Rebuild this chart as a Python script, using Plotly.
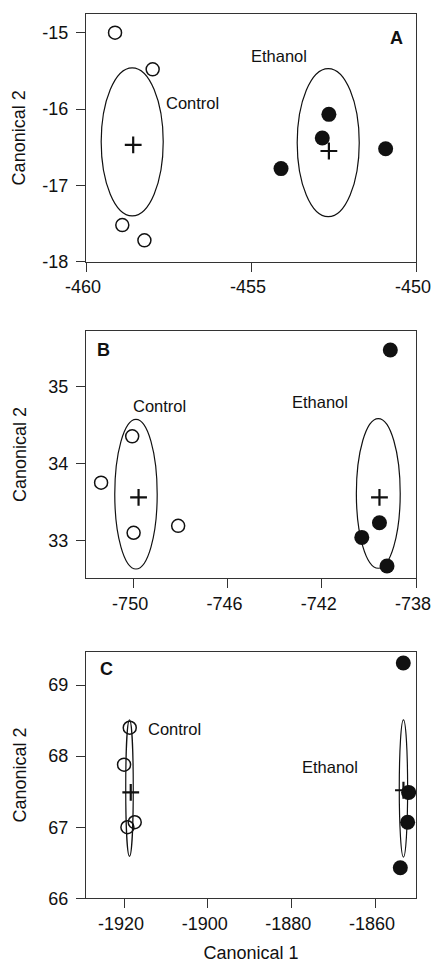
import plotly.graph_objects as go

# ---------------- data ----------------
# Panel A
a_ctrl_x = [-459.12, -457.98, -458.9, -458.23]
a_ctrl_y = [-15.0, -15.48, -17.52, -17.72]
a_eth_x = [-454.09, -452.64, -452.84, -450.92]
a_eth_y = [-16.78, -16.07, -16.38, -16.52]
a_cent_x = [-458.57, -452.64]
a_cent_y = [-16.47, -16.55]
a_ell_cx = [-458.6, -452.66]
a_ell_cy = [-16.43, -16.44]
a_ell_rx = [0.94, 0.94]
a_ell_ry = [0.97, 0.97]
a_xticks = [-460, -455, -450]
a_xticklabels = ["-460", "-455", "-450"]
a_yticks = [-18, -17, -16, -15]
a_yticklabels = ["-18", "-17", "-16", "-15"]

# Panel B
b_ctrl_x = [-751.36, -750.04, -749.98, -748.09]
b_ctrl_y = [33.75, 34.35, 33.10, 33.19]
b_eth_x = [-739.09, -739.55, -740.3, -739.23]
b_eth_y = [35.47, 33.23, 33.04, 32.67]
b_cent_x = [-749.77, -739.55]
b_cent_y = [33.56, 33.56]
b_ell_cx = [-749.88, -739.6]
b_ell_cy = [33.60, 33.61]
b_ell_rx = [0.9, 0.93]
b_ell_ry = [0.97, 0.97]
b_xticks = [-750, -746, -742, -738]
b_xticklabels = ["-750", "-746", "-742", "-738"]
b_yticks = [33, 34, 35]
b_yticklabels = ["33", "34", "35"]

# Panel C
c_ctrl_x = [-1918.64, -1920.0, -1919.2, -1917.45]
c_ctrl_y = [68.40, 67.88, 67.0, 67.07]
c_eth_x = [-1853.24, -1851.97, -1852.2, -1853.95]
c_eth_y = [69.31, 67.49, 67.07, 66.43]
c_cent_x = [-1918.4, -1853.2]
c_cent_y = [67.49, 67.52]
c_ell_cx = [-1918.7, -1853.2]
c_ell_cy = [67.55, 67.545]
c_ell_rx = [0.9, 1.0]
c_ell_ry = [0.96, 0.965]
c_xticks = [-1920, -1900, -1880, -1860]
c_xticklabels = ["-1920", "-1900", "-1880", "-1860"]
c_yticks = [66, 67, 68, 69]
c_yticklabels = ["66", "67", "68", "69"]

panels = [
    dict(letter="A", cx=a_ctrl_x, cy=a_ctrl_y, ex=a_eth_x, ey=a_eth_y,
         mx=a_cent_x, my=a_cent_y, ecx=a_ell_cx, ecy=a_ell_cy, erx=a_ell_rx, ery=a_ell_ry,
         xr=[-460, -450], yr=[-18, -14.755], xt=a_xticks, xtt=a_xticklabels,
         yt=a_yticks, ytt=a_yticklabels,
         ctrl_lab=(-456.77, -15.92), eth_lab=(-454.15, -15.31), let_pos=(-450.6, -15.07),
         dom=[0.7282, 0.9855], standoff=11),
    dict(letter="B", cx=b_ctrl_x, cy=b_ctrl_y, ex=b_eth_x, ey=b_eth_y,
         mx=b_cent_x, my=b_cent_y, ecx=b_ell_cx, ecy=b_ell_cy, erx=b_ell_rx, ery=b_ell_ry,
         xr=[-752, -738], yr=[32.51, 35.72], xt=b_xticks, xtt=b_xticklabels,
         yt=b_yticks, ytt=b_yticklabels,
         ctrl_lab=(-748.87, 34.74), eth_lab=(-742.08, 34.80), let_pos=(-751.26, 35.47),
         dom=[0.3995, 0.6566], standoff=16),
    dict(letter="C", cx=c_ctrl_x, cy=c_ctrl_y, ex=c_eth_x, ey=c_eth_y,
         mx=c_cent_x, my=c_cent_y, ecx=c_ell_cx, ecy=c_ell_cy, erx=c_ell_rx, ery=c_ell_ry,
         xr=[-1929.1, -1850.2], yr=[66, 69.47], xt=c_xticks, xtt=c_xticklabels,
         yt=c_yticks, ytt=c_yticklabels,
         ctrl_lab=(-1908.0, 68.38), eth_lab=(-1870.8, 67.85), let_pos=(-1924.3, 69.23),
         dom=[0.0672, 0.3233], standoff=16),
]

FONT = "Liberation Sans, Arial, sans-serif"
fig = go.Figure()
layout = dict(
    width=432, height=963, margin=dict(l=0, r=0, t=0, b=0),
    paper_bgcolor="white", plot_bgcolor="white", showlegend=False,
    font=dict(family=FONT, color="#111", size=17),
)
shapes = []
annotations = []

for i, p in enumerate(panels):
    n = "" if i == 0 else str(i + 1)
    xa, ya = "x" + n, "y" + n
    fig.add_trace(go.Scatter(x=p["cx"], y=p["cy"], mode="markers", xaxis=xa, yaxis=ya,
                             marker=dict(symbol="circle-open", size=13, color="#111",
                                         line=dict(width=1.5, color="#111"))))
    fig.add_trace(go.Scatter(x=p["ex"], y=p["ey"], mode="markers", xaxis=xa, yaxis=ya,
                             marker=dict(symbol="circle", size=15, color="#111")))
    fig.add_trace(go.Scatter(x=p["mx"], y=p["my"], mode="markers", xaxis=xa, yaxis=ya,
                             marker=dict(symbol="cross-thin", size=12, color="#111",
                                         line=dict(width=2.2, color="#111"))))
    for j in range(2):
        shapes.append(dict(type="circle", xref=xa, yref=ya,
                           x0=p["ecx"][j] - p["erx"][j], x1=p["ecx"][j] + p["erx"][j],
                           y0=p["ecy"][j] - p["ery"][j], y1=p["ecy"][j] + p["ery"][j],
                           line=dict(color="#111", width=1.2), layer="below"))
    annotations.append(dict(x=p["ctrl_lab"][0], y=p["ctrl_lab"][1], xref=xa, yref=ya,
                            text="Control", showarrow=False, font=dict(size=16.5)))
    annotations.append(dict(x=p["eth_lab"][0], y=p["eth_lab"][1], xref=xa, yref=ya,
                            text="Ethanol", showarrow=False, font=dict(size=16.5)))
    annotations.append(dict(x=p["let_pos"][0], y=p["let_pos"][1], xref=xa, yref=ya,
                            text="<b>" + p["letter"] + "</b>", showarrow=False, font=dict(size=18)))
    axcommon = dict(showline=True, mirror=True, linecolor="#333", linewidth=1.3,
                    ticks="outside", ticklen=9, tickcolor="#333", tickwidth=1.3,
                    showgrid=False, zeroline=False, automargin=False,
                    tickfont=dict(size=18))
    xkey = "xaxis" + n
    ykey = "yaxis" + n
    layout[xkey] = dict(axcommon, domain=[86 / 432, 416 / 432], range=p["xr"],
                        tickvals=p["xt"], ticktext=p["xtt"], anchor=ya,
                        ticklabelstandoff=0, ticklabelshift=-3, ticklabeloverflow="allow")
    layout[ykey] = dict(axcommon, domain=p["dom"], range=p["yr"], tickvals=p["yt"],
                        ticktext=p["ytt"], anchor=xa, ticklabelstandoff=4,
                        title=dict(text="Canonical 2", font=dict(size=18), standoff=p["standoff"]))
    if i == 2:
        layout[xkey]["title"] = dict(text="Canonical 1", font=dict(size=18), standoff=13)

layout["shapes"] = shapes
layout["annotations"] = annotations
fig.update_layout(**layout)
fig.write_html("out.html")
